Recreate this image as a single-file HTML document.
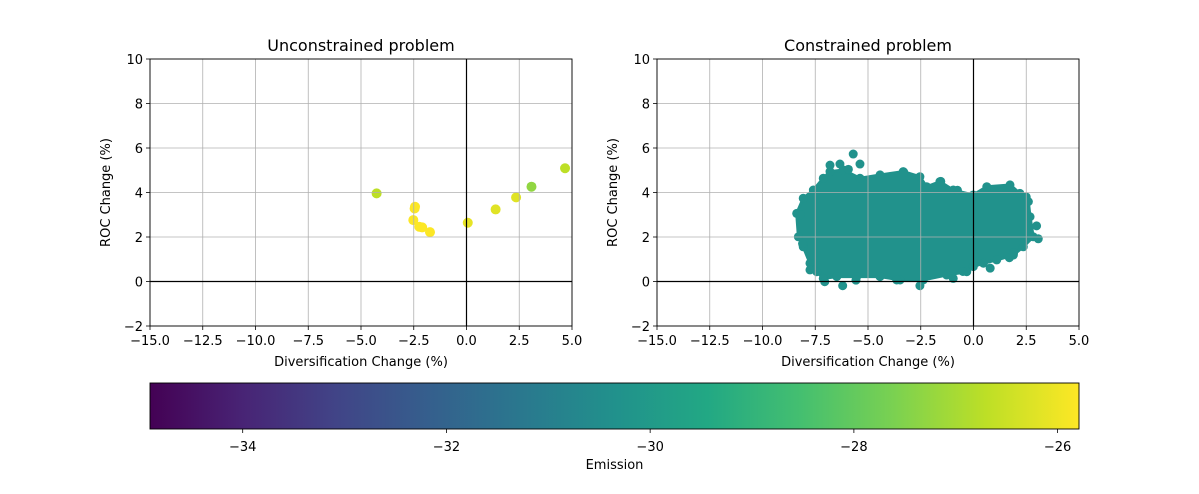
<!DOCTYPE html>
<html><head><meta charset="utf-8">
<style>
html,body{margin:0;padding:0;background:#fff;}
svg{display:block;font-family:"DejaVu Sans","Liberation Sans",sans-serif;}
</style></head>
<body>
<svg id="chart" width="1199" height="494" viewBox="0 0 1199 494" xmlns="http://www.w3.org/2000/svg">
<defs>
<linearGradient id="viridis" x1="0" x2="1" y1="0" y2="0">
<stop offset="0" stop-color="#440154"/><stop offset="0.1" stop-color="#482475"/>
<stop offset="0.2" stop-color="#414487"/><stop offset="0.3" stop-color="#355f8d"/>
<stop offset="0.4" stop-color="#2a788e"/><stop offset="0.5" stop-color="#21918c"/>
<stop offset="0.6" stop-color="#22a884"/><stop offset="0.7" stop-color="#44bf70"/>
<stop offset="0.8" stop-color="#7ad151"/><stop offset="0.9" stop-color="#bddf26"/>
<stop offset="1" stop-color="#fde725"/>
</linearGradient>
</defs>
</svg>
<script>
// Unconstrained problem data
const uncX = [-4.26, -2.44, -2.46, -2.52, -2.24, -2.1, -1.73, 0.06, 1.38, 2.35, 3.08, 4.67];
const uncY = [3.96, 3.36, 3.28, 2.76, 2.46, 2.43, 2.22, 2.64, 3.24, 3.78, 4.26, 5.09];
const uncEmission = [-26.7, -25.8, -25.8, -25.8, -25.8, -25.8, -25.8, -26.1, -26.2, -26.2, -27.3, -26.7];
// Constrained problem: dense core outline + individual points
const conOutlineX = [-8.38,-8.07,-7.59,-7.12,-6.80,-6.17,-5.38,-4.43,-3.33,-2.54,-2.22,-1.59,-0.96,-0.01,0.63,1.73,2.20,2.60,2.68,2.83,2.36,1.89,1.10,0.47,-0.01,-0.32,-1.27,-2.38,-3.48,-4.43,-5.54,-6.48,-7.12,-7.43,-7.75,-8.07,-8.30];
const conOutlineY = [3.06,3.74,4.11,4.64,4.94,5.01,4.64,4.79,4.94,4.71,4.26,4.49,4.11,3.89,4.26,4.34,3.96,3.59,2.91,2.01,1.56,1.19,0.97,0.82,0.67,0.44,0.29,0.07,0.07,0.22,0.22,0.22,0.14,0.44,0.82,1.56,2.01];
const conX = [-5.70,-5.38,-6.80,-6.33,-5.93,-3.30,-1.55,-0.76,-7.75,-7.05,-6.20,-5.57,-3.64,-2.54,-0.96,1.70,2.99,3.07,0.79,-8.2,-8.1,1.9,2.5,-0.5];
const conY = [5.73,5.28,5.23,5.28,5.04,4.90,4.50,4.10,0.52,-0.01,-0.19,0.06,0.07,-0.19,0.14,1.07,2.50,1.92,0.60,3.0,1.7,1.3,3.8,0.45];
const conEmission = -30.3;
// Axis ticks
const xTicks = [-15,-12.5,-10,-7.5,-5,-2.5,0,2.5,5];
const xTickLabels = ["\u221215.0","\u221212.5","\u221210.0","\u22127.5","\u22125.0","\u22122.5","0.0","2.5","5.0"];
const yTicks = [-2,0,2,4,6,8,10];
const yTickLabels = ["\u22122","0","2","4","6","8","10"];
const cbTicks = [-34,-32,-30,-28,-26];
const cbTickLabels = ["\u221234","\u221232","\u221230","\u221228","\u221226"];
const cbMin = -34.91, cbMax = -25.79;

const NS = "http://www.w3.org/2000/svg";
const svg = document.getElementById("chart");
function mk(tag, attrs, parent){const e=document.createElementNS(NS,tag);for(const k in attrs)e.setAttribute(k,attrs[k]);(parent||svg).appendChild(e);return e;}

const vir = ["#440154","#482475","#414487","#355f8d","#2a788e","#21918c","#22a884","#44bf70","#7ad151","#bddf26","#fde725"];
function hex2(c){return [1,3,5].map(i=>parseInt(c.substr(i,2),16));}
function viridis(v){let t=(v-cbMin)/(cbMax-cbMin);t=Math.max(0,Math.min(1,t));const f=t*10;const i=Math.min(9,Math.floor(f));const r=f-i;const a=hex2(vir[i]),b=hex2(vir[i+1]);return "rgb("+a.map((x,k)=>Math.round(x+(b[k]-x)*r)).join(",")+")";}

function makeAxes(left, name, title){
  const top=59, w=422, h=267;
  const sx=v=>left+(v+15)/20*w;
  const sy=v=>top+(10-v)/12*h;
  const g=mk("g",{});
  
  
  const t=mk("text",{x:left+w/2,y:51,"text-anchor":"middle","font-size":"16"},g);
  t.textContent=title;
  
  
  return {g,sx,sy,left,top,w,h};
}
function drawFrame(ax, name){
  const {g,sx,sy,left,top,w,h}=ax;
  const grid=mk("g",{stroke:"#b0b0b0","stroke-width":"0.8"},g);
  
  
  xTicks.forEach(v=>mk("line",{x1:sx(v),x2:sx(v),y1:top,y2:top+h},grid));
  yTicks.forEach(v=>mk("line",{x1:left,x2:left+w,y1:sy(v),y2:sy(v)},grid));
  const z1=mk("line",{x1:sx(0),x2:sx(0),y1:top,y2:top+h,stroke:"#000","stroke-width":"1.2"},g);
  
  
  const z2=mk("line",{x1:left,x2:left+w,y1:sy(0),y2:sy(0),stroke:"#000","stroke-width":"1.2"},g);
  
  
  const fr=mk("rect",{x:left,y:top,width:w,height:h,fill:"none",stroke:"#000","stroke-width":"0.9"},g);
  
  
  xTicks.forEach((v,i)=>{
    mk("line",{x1:sx(v),x2:sx(v),y1:top+h,y2:top+h+4,stroke:"#000","stroke-width":"0.8"},g);
    const tl=mk("text",{x:sx(v),y:top+h+19,"text-anchor":"middle","font-size":"13"},g);
    tl.textContent=xTickLabels[i];
    
    
  });
  yTicks.forEach((v,i)=>{
    mk("line",{x1:left-4,x2:left,y1:sy(v),y2:sy(v),stroke:"#000","stroke-width":"0.8"},g);
    const tl=mk("text",{x:left-7,y:sy(v)+5,"text-anchor":"end","font-size":"13"},g);
    tl.textContent=yTickLabels[i];
    
    
  });
  const xl=mk("text",{x:left+w/2,y:366,"text-anchor":"middle","font-size":"13"},g);
  xl.textContent="Diversification Change (%)";
  
  
  const yl=mk("text",{x:0,y:0,"text-anchor":"middle","font-size":"13",transform:"translate("+(left-40)+","+(top+h/2)+") rotate(-90)"},g);
  yl.textContent="ROC Change (%)";
  
  
}

// Left axes
const A=makeAxes(150,"unconstrained-panel","Unconstrained problem");
uncX.forEach((x,i)=>{
  const c=mk("circle",{cx:A.sx(x),cy:A.sy(uncY[i]),r:5,fill:viridis(uncEmission[i])},A.g);
  
  
});
drawFrame(A,"unconstrained");

// Right axes
const B=makeAxes(657,"constrained-panel","Constrained problem");
const col=viridis(conEmission);
const pts=conOutlineX.map((x,i)=>B.sx(x)+","+B.sy(conOutlineY[i])).join(" ");
const poly=mk("polygon",{points:pts,fill:col,stroke:col,"stroke-width":"3","stroke-linejoin":"round"},B.g);


conOutlineX.forEach((x,i)=>{
  const c=mk("circle",{cx:B.sx(x),cy:B.sy(conOutlineY[i]),r:4.5,fill:col},B.g);
  
  
});
conX.forEach((x,i)=>{
  const c=mk("circle",{cx:B.sx(x),cy:B.sy(conY[i]),r:4.5,fill:col},B.g);
  
  
});
drawFrame(B,"constrained");

// Colorbar
const cb=mk("g",{});


const cbL=150, cbW=929, cbT=383, cbH=46;
const cbx=v=>cbL+(v-cbMin)/(cbMax-cbMin)*cbW;
const cr=mk("rect",{x:cbL,y:cbT,width:cbW,height:cbH,fill:"url(#viridis)",stroke:"#000","stroke-width":"0.9"},cb);


cbTicks.forEach((v,i)=>{
  mk("line",{x1:cbx(v),x2:cbx(v),y1:cbT+cbH,y2:cbT+cbH+4,stroke:"#000","stroke-width":"0.8"},cb);
  const tl=mk("text",{x:cbx(v),y:451,"text-anchor":"middle","font-size":"13"},cb);
  tl.textContent=cbTickLabels[i];
  
  
});
const el=mk("text",{x:cbL+cbW/2,y:469,"text-anchor":"middle","font-size":"13"},cb);
el.textContent="Emission";


</script>
</body></html>
